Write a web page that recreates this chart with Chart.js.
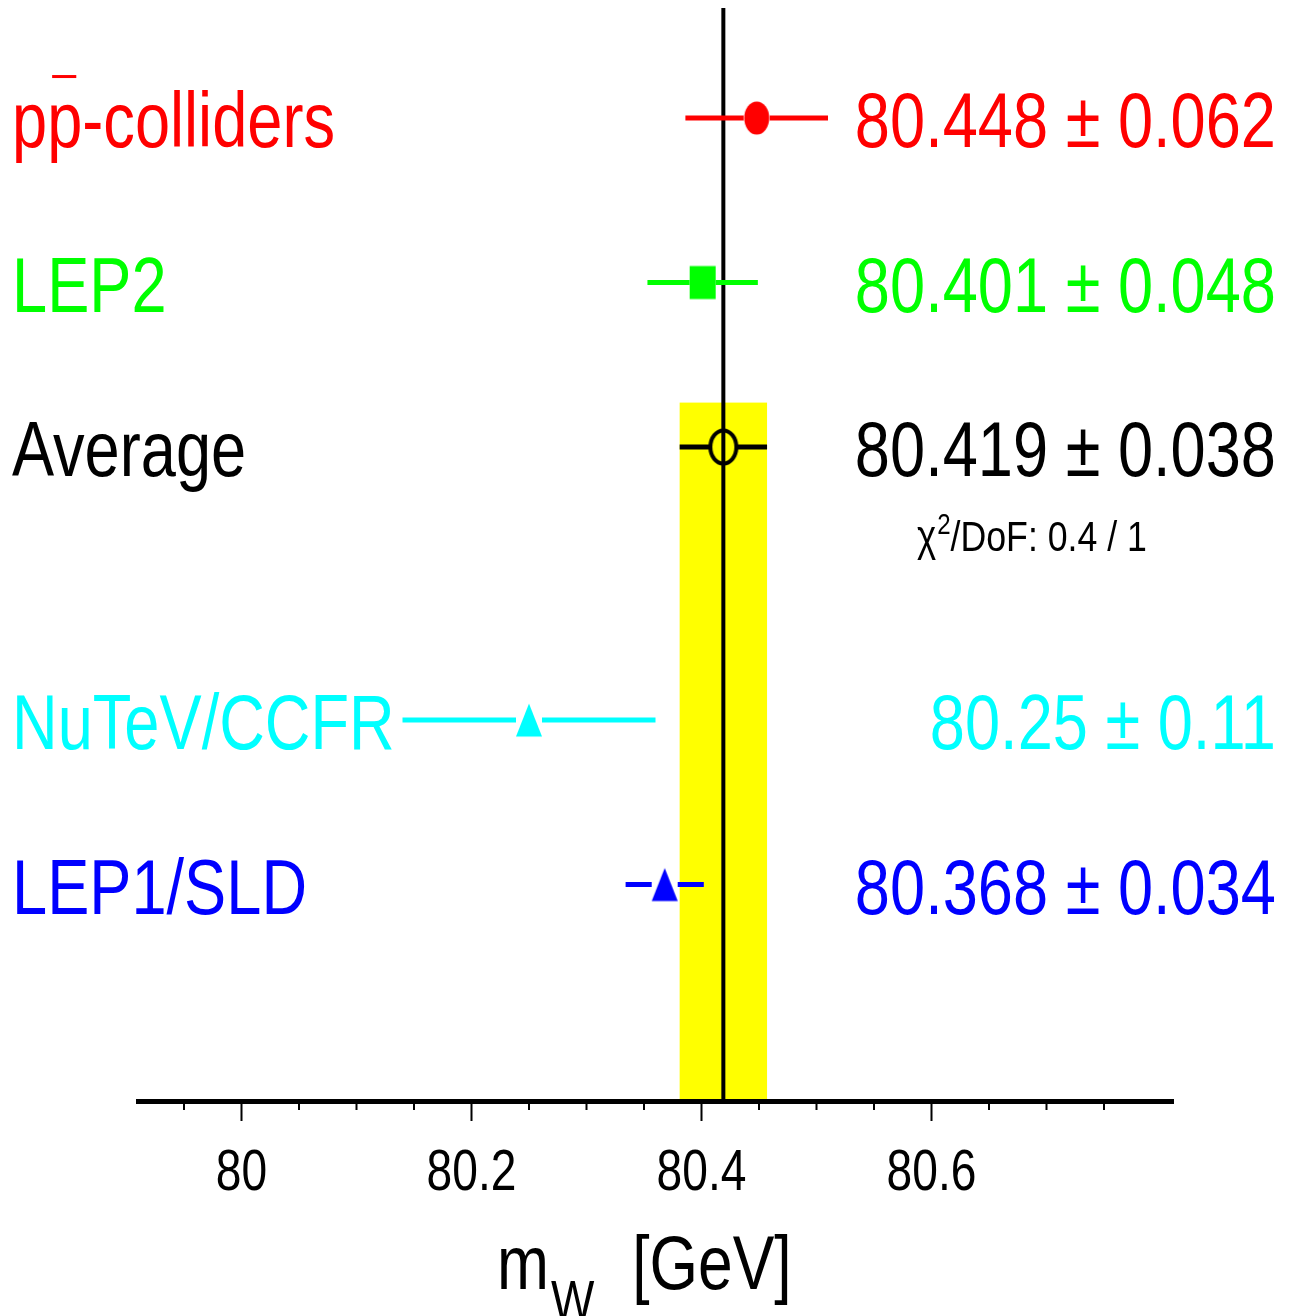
<!DOCTYPE html>
<html>
<head>
<meta charset="utf-8">
<script src="https://cdn.jsdelivr.net/npm/chart.js@4"></script>
<style>
  body { margin: 0; background: #fff; }
  canvas { display: block; }
</style>
</head>
<body>
<canvas id="mw" width="1293" height="1316"></canvas>
<script>
// W mass measurements
const names = ['pp-colliders', 'LEP2', 'Average', 'NuTeV/CCFR', 'LEP1/SLD'];
const mw = [80.448, 80.401, 80.419, 80.25, 80.368];
const err = [0.062, 0.048, 0.038, 0.11, 0.034];
const valueText = ['80.448 ± 0.062', '80.401 ± 0.048', '80.419 ± 0.038', '80.25 ± 0.11', '80.368 ± 0.034'];
const rowPos = [1, 2, 3, 4.66, 5.66];
const colors = ['#ff0000', '#00ff00', '#000000', '#00ffff', '#0000ff'];
const markers = ['circle', 'square', 'openCircle', 'triangle', 'triangle'];
const tickValues = [80, 80.2, 80.4, 80.6];
const tickLabels = ['80', '80.2', '80.4', '80.6'];
const minorTicks = [79.95, 80.05, 80.1, 80.15, 80.25, 80.3, 80.35, 80.45, 80.5, 80.55, 80.65, 80.7, 80.75];
const chi2 = '0.4 / 1';
const AVG = 2;

const FONT = '"Liberation Sans", Arial, sans-serif';

// condensed text: the plot uses a narrow Helvetica
function text(ctx, str, x, y, size, align, sx) {
  ctx.save();
  ctx.font = size + 'px ' + FONT;
  ctx.textAlign = align;
  ctx.textBaseline = 'alphabetic';
  ctx.translate(x, y);
  ctx.scale(sx, 1);
  ctx.fillText(str, 0, 0);
  const w = ctx.measureText(str).width * sx;
  ctx.restore();
  return w;
}

function marker(kind, color) {
  const c = document.createElement('canvas');
  c.width = 34; c.height = 40;
  const g = c.getContext('2d');
  const cx = 17, cy = 20;
  g.fillStyle = color; g.strokeStyle = color;
  g.beginPath();
  if (kind === 'circle') {
    g.ellipse(cx, cy, 12.5, 16.5, 0, 0, 2 * Math.PI); g.fill();
  } else if (kind === 'openCircle') {
    g.lineWidth = 4;
    g.ellipse(cx, cy, 13, 16.5, 0, 0, 2 * Math.PI); g.stroke();
  } else if (kind === 'square') {
    g.fillRect(cx - 13, cy - 16.5, 26, 33);
  } else {
    g.moveTo(cx, cy - 16.5); g.lineTo(cx + 13, cy + 16.5); g.lineTo(cx - 13, cy + 16.5);
    g.closePath(); g.fill();
  }
  return c;
}

const decor = {
  id: 'decor',
  beforeDatasetsDraw(chart) {
    const {ctx, chartArea: a, scales: {x, y}} = chart;
    ctx.save();
    // band of the average
    const bl = x.getPixelForValue(mw[AVG] - err[AVG]);
    const br = x.getPixelForValue(mw[AVG] + err[AVG]);
    const bt = y.getPixelForValue(rowPos[AVG] - 0.27);
    ctx.fillStyle = '#ffff00';
    ctx.fillRect(bl, bt, br - bl, a.bottom - bt);
    // vertical line at average
    const ax = x.getPixelForValue(mw[AVG]);
    ctx.strokeStyle = '#000'; ctx.lineWidth = 4;
    ctx.beginPath(); ctx.moveTo(ax, a.top); ctx.lineTo(ax, a.bottom); ctx.stroke();
    // error bars, with a gap for the marker
    ctx.lineWidth = 5;
    mw.forEach((m, i) => {
      const py = y.getPixelForValue(rowPos[i]);
      const px = x.getPixelForValue(m);
      ctx.strokeStyle = colors[i];
      ctx.beginPath();
      ctx.moveTo(x.getPixelForValue(m - err[i]), py); ctx.lineTo(px - 13, py);
      ctx.moveTo(px + 13, py); ctx.lineTo(x.getPixelForValue(m + err[i]), py);
      ctx.stroke();
    });
    ctx.restore();
  },
  afterDraw(chart) {
    const {ctx, chartArea: a, scales: {x, y}} = chart;
    ctx.save();
    // ticks hanging under the axis
    ctx.strokeStyle = '#000'; ctx.lineWidth = 2;
    const base = a.bottom;
    ctx.beginPath();
    tickValues.forEach(v => { const px = x.getPixelForValue(v); ctx.moveTo(px, base); ctx.lineTo(px, base + 20); });
    minorTicks.forEach(v => { const px = x.getPixelForValue(v); ctx.moveTo(px, base); ctx.lineTo(px, base + 9); });
    ctx.stroke();

    ctx.fillStyle = '#000';
    tickValues.forEach((v, i) => text(ctx, tickLabels[i], x.getPixelForValue(v), base + 89, 57, 'center', 0.81));

    // row labels
    names.forEach((n, i) => {
      const py = y.getPixelForValue(rowPos[i]) + 29;
      ctx.fillStyle = colors[i];
      text(ctx, n, 12, py, 78, 'left', 0.81);
      text(ctx, valueText[i], chart.width - 17, py, 78, 'right', 0.81);
      if (i === 0) {
        // bar over the second p
        ctx.font = '78px ' + FONT;
        const w = ctx.measureText('p').width * 0.81;
        ctx.fillRect(12 + w + 5, py - 72, w - 11, 3);
      }
    });

    // chi2 / DoF
    ctx.fillStyle = '#000';
    let cx = 917;
    const cy = y.getPixelForValue(rowPos[AVG]) + 104;
    cx += text(ctx, 'χ', cx, cy, 44, 'left', 0.83) + 1;
    cx += text(ctx, '2', cx, cy - 17, 29, 'left', 0.83);
    text(ctx, '/DoF: ' + chi2, cx, cy, 43, 'left', 0.83);

    // axis title m_W [GeV]
    let tx = 497;
    const ty = 1289;
    tx += text(ctx, 'm', tx, ty, 76, 'left', 0.82) + 2;
    tx += text(ctx, 'W', tx, ty + 30, 56, 'left', 0.82) + 38;
    text(ctx, '[GeV]', tx, ty, 76, 'left', 0.82);
    ctx.restore();
  }
};

new Chart(document.getElementById('mw'), {
  type: 'scatter',
  data: {
    datasets: [{
      data: mw.map((m, i) => ({x: m, y: rowPos[i]})),
      pointStyle: markers.map((k, i) => marker(k, colors[i])),
      pointRadius: 17,
      pointHoverRadius: 17
    }]
  },
  options: {
    responsive: false,
    animation: false,
    events: [],
    layout: {autoPadding: false, padding: {left: 138, right: 120, top: 8, bottom: 0}},
    plugins: {legend: {display: false}, tooltip: {enabled: false}},
    scales: {
      x: {
        type: 'linear', min: 79.91, max: 80.81,
        afterBuildTicks: s => { s.ticks = tickValues.map(v => ({value: v})); },
        afterFit: s => { s.height = 215; },
        grid: {display: false, drawTicks: false},
        border: {display: true, color: '#000', width: 5, z: 1},
        ticks: {display: false}
      },
      y: {type: 'linear', display: false, reverse: true, min: 0.331, max: 6.976}
    }
  },
  plugins: [decor]
});
</script>
</body>
</html>
